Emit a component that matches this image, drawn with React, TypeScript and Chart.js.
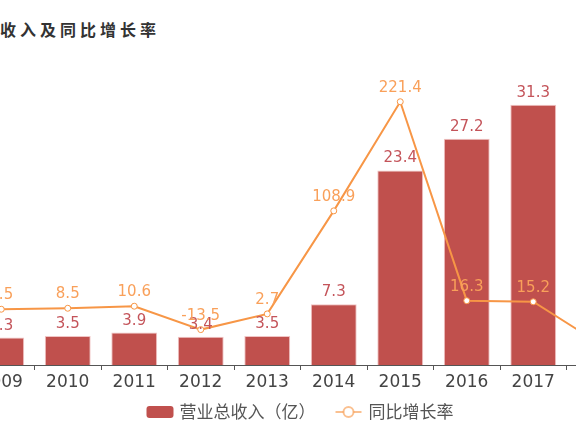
import { useEffect, useRef } from "react"
import { Chart, registerables, type ChartConfiguration, type Plugin } from "chart.js"

Chart.register(...registerables)

const years = ["2009", "2010", "2011", "2012", "2013", "2014", "2015", "2016", "2017", "2018"]
const revenue = [3.3, 3.5, 3.9, 3.4, 3.5, 7.3, 23.4, 27.2, 31.3, 22.5]
const growth = [7.5, 8.5, 10.6, -13.5, 2.7, 108.9, 221.4, 16.3, 15.2, -28.1]

const BAR = "#c0504d"
const LINE = "#f79646"
const FONT = "'DejaVu Sans', 'Noto Sans CJK SC', sans-serif"
const CJK = "'Noto Sans CJK SC', 'DejaVu Sans', sans-serif"

// numbers over bars and points
const valueLabels: Plugin = {
  id: "valueLabels",
  afterDatasetsDraw(chart) {
    const ctx = chart.ctx
    ctx.save()
    ctx.font = `15px ${FONT}`
    ctx.textAlign = "center"
    ctx.textBaseline = "alphabetic"
    chart.data.datasets.forEach((ds, i) => {
      const meta = chart.getDatasetMeta(i)
      const isBar = meta.type === "bar"
      ctx.fillStyle = isBar ? "#c4545a" : "#f9a05a"
      meta.data.forEach((el, j) => {
        const v = ds.data[j] as number
        ctx.fillText(v.toFixed(1), el.x, el.y - (isBar ? 8 : 10))
      })
    })
    ctx.restore()
  },
}

// legend drawn by hand to get the -o- marker
const bottomLegend: Plugin = {
  id: "bottomLegend",
  afterDraw(chart) {
    const ctx = chart.ctx
    const [barDs, lineDs] = chart.data.datasets
    ctx.save()
    ctx.font = `17px ${CJK}`
    ctx.textBaseline = "middle"
    const t1 = ctx.measureText(barDs.label || "").width
    const t2 = ctx.measureText(lineDs.label || "").width
    const total = 27 + 6 + t1 + 20 + 26 + 7 + t2
    let x = chart.width / 2 - total / 2
    const y = 412

    ctx.fillStyle = BAR
    ctx.beginPath()
    ctx.roundRect(x, y - 6, 27, 12, 3)
    ctx.fill()
    x += 33
    ctx.fillStyle = "#555"
    ctx.fillText(barDs.label || "", x, y)
    x += t1 + 20

    ctx.strokeStyle = "rgba(247,150,70,0.6)"
    ctx.lineWidth = 2
    ctx.beginPath()
    ctx.moveTo(x, y)
    ctx.lineTo(x + 26, y)
    ctx.stroke()
    ctx.fillStyle = "#fff"
    ctx.beginPath()
    ctx.arc(x + 13, y, 5, 0, Math.PI * 2)
    ctx.fill()
    ctx.stroke()
    x += 33
    ctx.fillStyle = "#555"
    ctx.fillText(lineDs.label || "", x, y)
    ctx.restore()
  },
}

function RevenueChart() {
  const canvasRef = useRef<HTMLCanvasElement>(null)
  const chartRef = useRef<Chart | null>(null)

  useEffect(() => {
    if (!canvasRef.current) return
    if (chartRef.current) chartRef.current.destroy()

    const config: ChartConfiguration = {
      type: "bar",
      data: {
        labels: years,
        datasets: [
          {
            type: "bar",
            label: "营业总收入（亿）",
            data: revenue,
            backgroundColor: BAR,
            borderColor: "rgba(240,190,190,0.9)",
            borderWidth: 1,
            categoryPercentage: 1,
            barPercentage: 0.69,
            yAxisID: "y",
            order: 2,
          },
          {
            type: "line",
            label: "同比增长率",
            data: growth,
            borderColor: LINE,
            borderWidth: 2,
            pointRadius: 3,
            pointBackgroundColor: "#fff",
            pointBorderColor: LINE,
            pointBorderWidth: 1,
            tension: 0,
            yAxisID: "y1",
            order: 1,
          },
        ],
      },
      options: {
        responsive: false,
        animation: false,
        layout: { padding: { left: 8, right: 7, top: 74, bottom: 37 } },
        plugins: {
          legend: { display: false },
          title: { display: false },
          tooltip: { enabled: false },
        },
        scales: {
          x: {
            offset: true,
            grid: { display: true, drawOnChartArea: false, offset: true, tickLength: 5, color: "#555" },
            border: { color: "#555" },
            ticks: { color: "#444", font: { family: FONT, size: 17 }, padding: 2 },
            afterFit: (s) => {
              s.height = 30
            },
          },
          y: { display: false, min: 0, max: 35 },
          y1: { display: false, min: -50, max: 250 },
        },
      },
      plugins: [valueLabels, bottomLegend],
    }

    chartRef.current = new Chart(canvasRef.current, config)
    return () => {
      if (chartRef.current) {
        chartRef.current.destroy()
        chartRef.current = null
      }
    }
  }, [])

  return (
    <div style={{ position: "fixed", left: 0, top: 0, width: 576, height: 432, overflow: "hidden", background: "#fff" }}>
      <div
        style={{
          position: "absolute",
          left: -60,
          top: 19,
          font: `bold 16px ${CJK}`,
          lineHeight: "20px",
          letterSpacing: "4px",
          color: "#333",
          whiteSpace: "nowrap",
        }}
      >
        营业总收入及同比增长率
      </div>
      <canvas ref={canvasRef} width={680} height={432} style={{ position: "absolute", left: -40, top: 0 }} />
    </div>
  )
}

export default function App() {
  return <RevenueChart />
}
